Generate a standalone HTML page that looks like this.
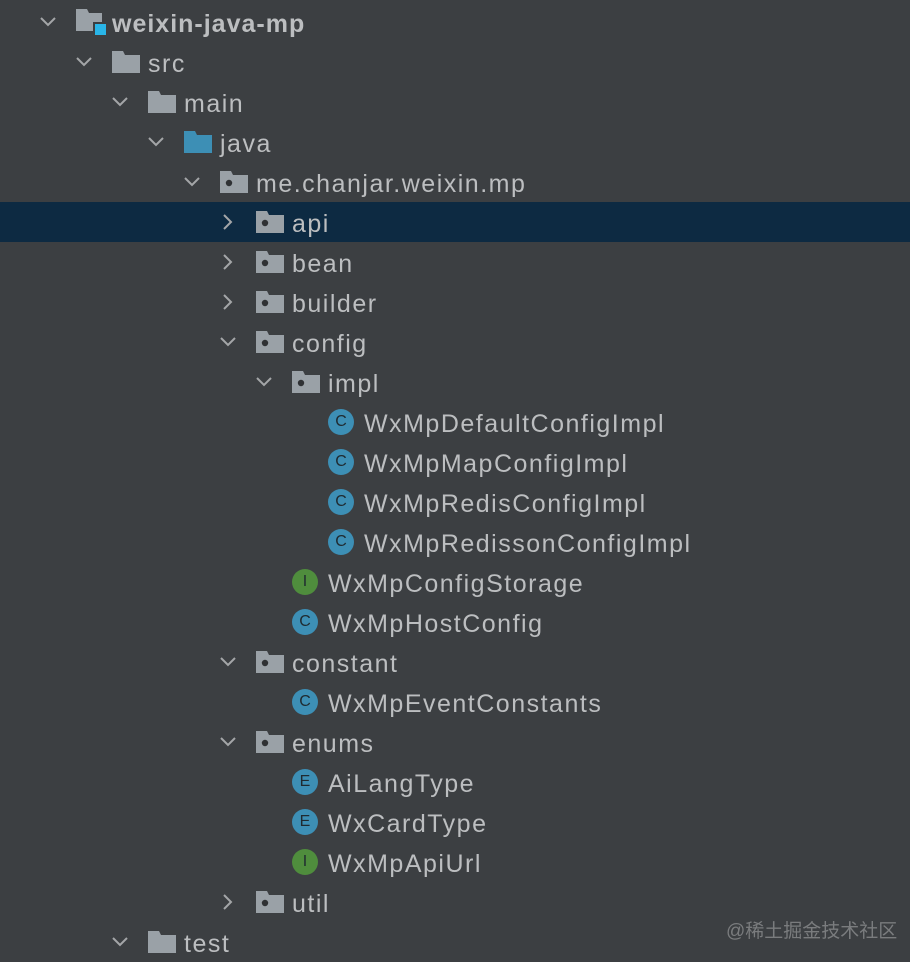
<!DOCTYPE html>
<html><head><meta charset="utf-8"><style>
body{margin:0;width:910px;height:948px;background:#3c3f42;overflow:hidden;position:relative;font-family:"Liberation Sans",sans-serif}
.sel{position:absolute;left:0;top:202px;width:910px;height:40px;background:#0d2a42}
.r{position:absolute;height:40px;left:0;width:910px}
.t{position:absolute;top:7px;font-size:25px;letter-spacing:1.5px;color:#bcbec0;line-height:30px;white-space:nowrap}
svg{position:absolute}
.ci{position:absolute;top:7px;width:26px;height:26px;border-radius:50%;font-size:16px;line-height:26px;text-align:center;color:#1f2a30;font-family:"Liberation Sans",sans-serif}
.c{background:#3d8fb5}.i{background:#4f8d3d}
.wm{position:absolute;left:726px;top:916px;font-size:19px;color:#7a7c7e;font-family:"Liberation Sans","Noto Sans CJK SC",sans-serif}
</style></head><body>
<div class="sel"></div>
<svg width="0" height="0" style="position:absolute"><defs>
<symbol id="dn" viewBox="0 0 16 10"><polyline points="1,1 8,8 15,1" fill="none" stroke="#a4a6a8" stroke-width="2"/></symbol>
<symbol id="rt" viewBox="0 0 10 16"><polyline points="1,1 8,8 1,15" fill="none" stroke="#a4a6a8" stroke-width="2"/></symbol>
<symbol id="fd" viewBox="0 0 28 22"><path d="M0 0H11L13 4H28V22H0Z" fill="#9aa1a7"/></symbol>
<symbol id="fb" viewBox="0 0 28 22"><path d="M0 0H11L13 4H28V22H0Z" fill="#3d8fb5"/></symbol>
<symbol id="pk" viewBox="0 0 28 22"><path d="M0 0H11L13 4H28V22H0Z" fill="#9aa1a7"/><circle cx="9" cy="12" r="3.2" fill="#2f3134"/></symbol>
<symbol id="md" viewBox="0 0 30 26"><path d="M0 0H11L13 4H26V22H0Z" fill="#9aa1a7"/><rect x="17" y="13" width="13" height="13" fill="#3c3f42"/><rect x="19" y="15" width="11" height="11" fill="#29b5e8"/></symbol>
</defs></svg>

<div class="r" style="top:2px"><svg style="left:40px;top:15px" width="16" height="10"><use href="#dn"/></svg><svg style="left:76px;top:7px" width="30" height="26"><use href="#md"/></svg><div class="t" style="left:112px;font-weight:bold;letter-spacing:1px">weixin-java-mp</div></div>
<div class="r" style="top:42px"><svg style="left:76px;top:15px" width="16" height="10"><use href="#dn"/></svg><svg style="left:112px;top:9px" width="28" height="22"><use href="#fd"/></svg><div class="t" style="left:148px">src</div></div>
<div class="r" style="top:82px"><svg style="left:112px;top:15px" width="16" height="10"><use href="#dn"/></svg><svg style="left:148px;top:9px" width="28" height="22"><use href="#fd"/></svg><div class="t" style="left:184px">main</div></div>
<div class="r" style="top:122px"><svg style="left:148px;top:15px" width="16" height="10"><use href="#dn"/></svg><svg style="left:184px;top:9px" width="28" height="22"><use href="#fb"/></svg><div class="t" style="left:220px">java</div></div>
<div class="r" style="top:162px"><svg style="left:184px;top:15px" width="16" height="10"><use href="#dn"/></svg><svg style="left:220px;top:9px" width="28" height="22"><use href="#pk"/></svg><div class="t" style="left:256px">me.chanjar.weixin.mp</div></div>
<div class="r" style="top:202px"><svg style="left:223px;top:12px" width="10" height="16"><use href="#rt"/></svg><svg style="left:256px;top:9px" width="28" height="22"><use href="#pk"/></svg><div class="t" style="left:292px">api</div></div>
<div class="r" style="top:242px"><svg style="left:223px;top:12px" width="10" height="16"><use href="#rt"/></svg><svg style="left:256px;top:9px" width="28" height="22"><use href="#pk"/></svg><div class="t" style="left:292px">bean</div></div>
<div class="r" style="top:282px"><svg style="left:223px;top:12px" width="10" height="16"><use href="#rt"/></svg><svg style="left:256px;top:9px" width="28" height="22"><use href="#pk"/></svg><div class="t" style="left:292px">builder</div></div>
<div class="r" style="top:322px"><svg style="left:220px;top:15px" width="16" height="10"><use href="#dn"/></svg><svg style="left:256px;top:9px" width="28" height="22"><use href="#pk"/></svg><div class="t" style="left:292px">config</div></div>
<div class="r" style="top:362px"><svg style="left:256px;top:15px" width="16" height="10"><use href="#dn"/></svg><svg style="left:292px;top:9px" width="28" height="22"><use href="#pk"/></svg><div class="t" style="left:328px">impl</div></div>
<div class="r" style="top:402px"><div class="ci c" style="left:328px">C</div><div class="t" style="left:364px">WxMpDefaultConfigImpl</div></div>
<div class="r" style="top:442px"><div class="ci c" style="left:328px">C</div><div class="t" style="left:364px">WxMpMapConfigImpl</div></div>
<div class="r" style="top:482px"><div class="ci c" style="left:328px">C</div><div class="t" style="left:364px">WxMpRedisConfigImpl</div></div>
<div class="r" style="top:522px"><div class="ci c" style="left:328px">C</div><div class="t" style="left:364px">WxMpRedissonConfigImpl</div></div>
<div class="r" style="top:562px"><div class="ci i" style="left:292px">I</div><div class="t" style="left:328px">WxMpConfigStorage</div></div>
<div class="r" style="top:602px"><div class="ci c" style="left:292px">C</div><div class="t" style="left:328px">WxMpHostConfig</div></div>
<div class="r" style="top:642px"><svg style="left:220px;top:15px" width="16" height="10"><use href="#dn"/></svg><svg style="left:256px;top:9px" width="28" height="22"><use href="#pk"/></svg><div class="t" style="left:292px">constant</div></div>
<div class="r" style="top:682px"><div class="ci c" style="left:292px">C</div><div class="t" style="left:328px">WxMpEventConstants</div></div>
<div class="r" style="top:722px"><svg style="left:220px;top:15px" width="16" height="10"><use href="#dn"/></svg><svg style="left:256px;top:9px" width="28" height="22"><use href="#pk"/></svg><div class="t" style="left:292px">enums</div></div>
<div class="r" style="top:762px"><div class="ci c" style="left:292px">E</div><div class="t" style="left:328px">AiLangType</div></div>
<div class="r" style="top:802px"><div class="ci c" style="left:292px">E</div><div class="t" style="left:328px">WxCardType</div></div>
<div class="r" style="top:842px"><div class="ci i" style="left:292px">I</div><div class="t" style="left:328px">WxMpApiUrl</div></div>
<div class="r" style="top:882px"><svg style="left:223px;top:12px" width="10" height="16"><use href="#rt"/></svg><svg style="left:256px;top:9px" width="28" height="22"><use href="#pk"/></svg><div class="t" style="left:292px">util</div></div>
<div class="r" style="top:922px"><svg style="left:112px;top:15px" width="16" height="10"><use href="#dn"/></svg><svg style="left:148px;top:9px" width="28" height="22"><use href="#fd"/></svg><div class="t" style="left:184px">test</div></div>
<div class="wm">@稀土掘金技术社区</div>
</body></html>
